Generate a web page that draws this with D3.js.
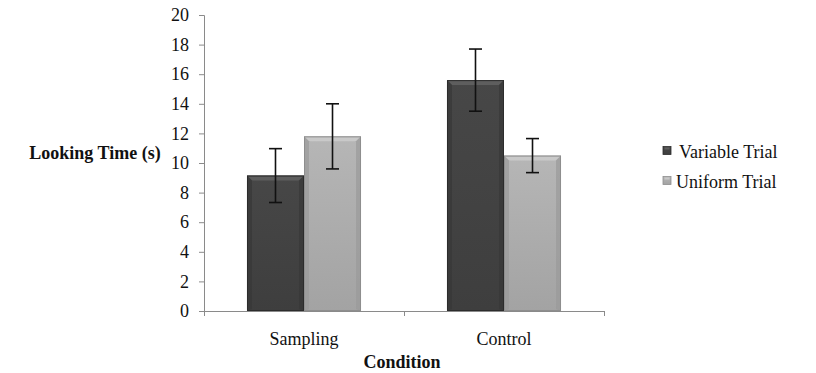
<!DOCTYPE html>
<html><head><meta charset="utf-8">
<script src="https://cdn.jsdelivr.net/npm/d3@7"></script>
<style>body{margin:0;background:#fff}svg{display:block}text{font-family:"Liberation Serif","Times New Roman",serif;fill:#111}</style>
</head><body><svg id="c" width="816" height="373"></svg>
<script>
const categories = ["Sampling", "Control"];
const seriesNames = ["Variable Trial", "Uniform Trial"];
const variableMeans = [9.15, 15.6];
const uniformMeans = [11.8, 10.5];
const variableErr = [1.82, 2.1];
const uniformErr = [2.2, 1.15];
const yTicks = [0, 2, 4, 6, 8, 10, 12, 14, 16, 18, 20];

const svg = d3.select("#c");
const m = {l: 204, r: 604, t: 15, b: 311};
const x0 = d3.scaleBand().domain(categories).range([m.l, m.r]).padding(0);
const x1 = d3.scaleBand().domain(seriesNames).range([0, x0.bandwidth()]).paddingInner(0).paddingOuter(0.754);
const y = d3.scaleLinear().domain([0, 20]).range([m.b, m.t]);

const defs = svg.append("defs");
const styles = {
  "Variable Trial": {top: "#474747", bot: "#3e3e3e", bevel: "#5e5e5e", side: "#383838", stroke: "#2c2c2c"},
  "Uniform Trial": {top: "#b6b6b6", bot: "#a3a3a3", bevel: "#c9c9c9", side: "#9a9a9a", stroke: "#8e8e8e"}
};
seriesNames.forEach((s, i) => {
  const g = defs.append("linearGradient").attr("id", "g" + i).attr("x1", 0).attr("y1", 0).attr("x2", 0).attr("y2", 1);
  g.append("stop").attr("offset", 0).attr("stop-color", styles[s].top);
  g.append("stop").attr("offset", 1).attr("stop-color", styles[s].bot);
});

// axes
const ya = svg.append("g").attr("transform", `translate(${m.l},0)`)
  .call(d3.axisLeft(y).tickValues(yTicks).tickSize(5).tickPadding(10));
ya.select(".domain").attr("stroke", "#8a8a8a");
ya.selectAll(".tick line").attr("stroke", "#8a8a8a");
ya.selectAll(".tick text").attr("font-size", 18).attr("fill", "#111").attr("font-family", "Liberation Serif");

const xa = svg.append("g").attr("transform", `translate(0,${m.b})`)
  .call(d3.axisBottom(x0).tickSize(0).tickPadding(21));
xa.select(".domain").remove();
xa.selectAll(".tick text").attr("font-size", 18).attr("fill", "#111").attr("font-family", "Liberation Serif");
svg.append("line").attr("x1", m.l).attr("x2", m.r).attr("y1", m.b + 0.5).attr("y2", m.b + 0.5).attr("stroke", "#8a8a8a");
[m.l, m.l + x0.step(), m.r].forEach(px => {
  svg.append("line").attr("x1", px + 0.5).attr("x2", px + 0.5).attr("y1", m.b).attr("y2", m.b + 5).attr("stroke", "#8a8a8a");
});

// bars
const data = [];
categories.forEach((c, ci) => {
  data.push({c, s: seriesNames[0], v: variableMeans[ci], e: variableErr[ci], i: 0});
  data.push({c, s: seriesNames[1], v: uniformMeans[ci], e: uniformErr[ci], i: 1});
});
const bars = svg.append("g").selectAll("g").data(data).join("g");
bars.each(function(d) {
  const g = d3.select(this);
  const bx = x0(d.c) + x1(d.s), bw = x1.bandwidth(), by = y(d.v), bh = y(0) - y(d.v);
  const st = styles[d.s];
  g.append("rect").attr("x", bx).attr("y", by).attr("width", bw).attr("height", bh).attr("fill", `url(#g${d.i})`);
  const bv = 5;
  // top bevel
  g.append("path").attr("d", `M${bx},${by}L${bx + bw},${by}L${bx + bw - bv},${by + bv}L${bx + bv},${by + bv}Z`).attr("fill", st.bevel);
  // side bevels
  g.append("path").attr("d", `M${bx},${by}L${bx + bv},${by + bv}L${bx + bv},${by + bh - 2}L${bx},${by + bh}Z`).attr("fill", st.side).attr("opacity", 0.7);
  g.append("path").attr("d", `M${bx + bw},${by}L${bx + bw - bv},${by + bv}L${bx + bw - bv},${by + bh - 2}L${bx + bw},${by + bh}Z`).attr("fill", st.side).attr("opacity", 0.7);
  g.append("rect").attr("x", bx + 0.5).attr("y", by + 0.5).attr("width", bw - 1).attr("height", bh - 1).attr("fill", "none").attr("stroke", st.stroke).attr("stroke-width", 1);
});

// error bars
const eb = svg.append("g").attr("stroke", "#111").attr("stroke-width", 1.6);
data.forEach(d => {
  const cx = x0(d.c) + x1(d.s) + x1.bandwidth() / 2;
  eb.append("line").attr("x1", cx).attr("x2", cx).attr("y1", y(d.v + d.e)).attr("y2", y(d.v - d.e));
  eb.append("line").attr("x1", cx - 6.5).attr("x2", cx + 6.5).attr("y1", y(d.v + d.e)).attr("y2", y(d.v + d.e));
  eb.append("line").attr("x1", cx - 6.5).attr("x2", cx + 6.5).attr("y1", y(d.v - d.e)).attr("y2", y(d.v - d.e));
});

// titles
svg.append("text").attr("x", 95).attr("y", 159).attr("text-anchor", "middle").attr("font-size", 18).attr("font-weight", "bold").text("Looking Time (s)");
svg.append("text").attr("x", 402).attr("y", 368).attr("text-anchor", "middle").attr("font-size", 18).attr("font-weight", "bold").text("Condition");

// legend
const leg = svg.append("g");
seriesNames.forEach((s, i) => {
  const ly = 150.5 + i * 30;
  const st = styles[s];
  leg.append("rect").attr("x", 663).attr("y", ly - 4).attr("width", 8).attr("height", 8).attr("fill", `url(#g${i})`).attr("stroke", st.stroke).attr("stroke-width", 0.8);
  leg.append("rect").attr("x", 664.5).attr("y", ly - 3).attr("width", 5).attr("height", 2).attr("fill", st.bevel);
  leg.append("text").attr("x", i === 0 ? 679 : 676).attr("y", ly + 7).attr("font-size", 18).text(s);
});
</script></body></html>
